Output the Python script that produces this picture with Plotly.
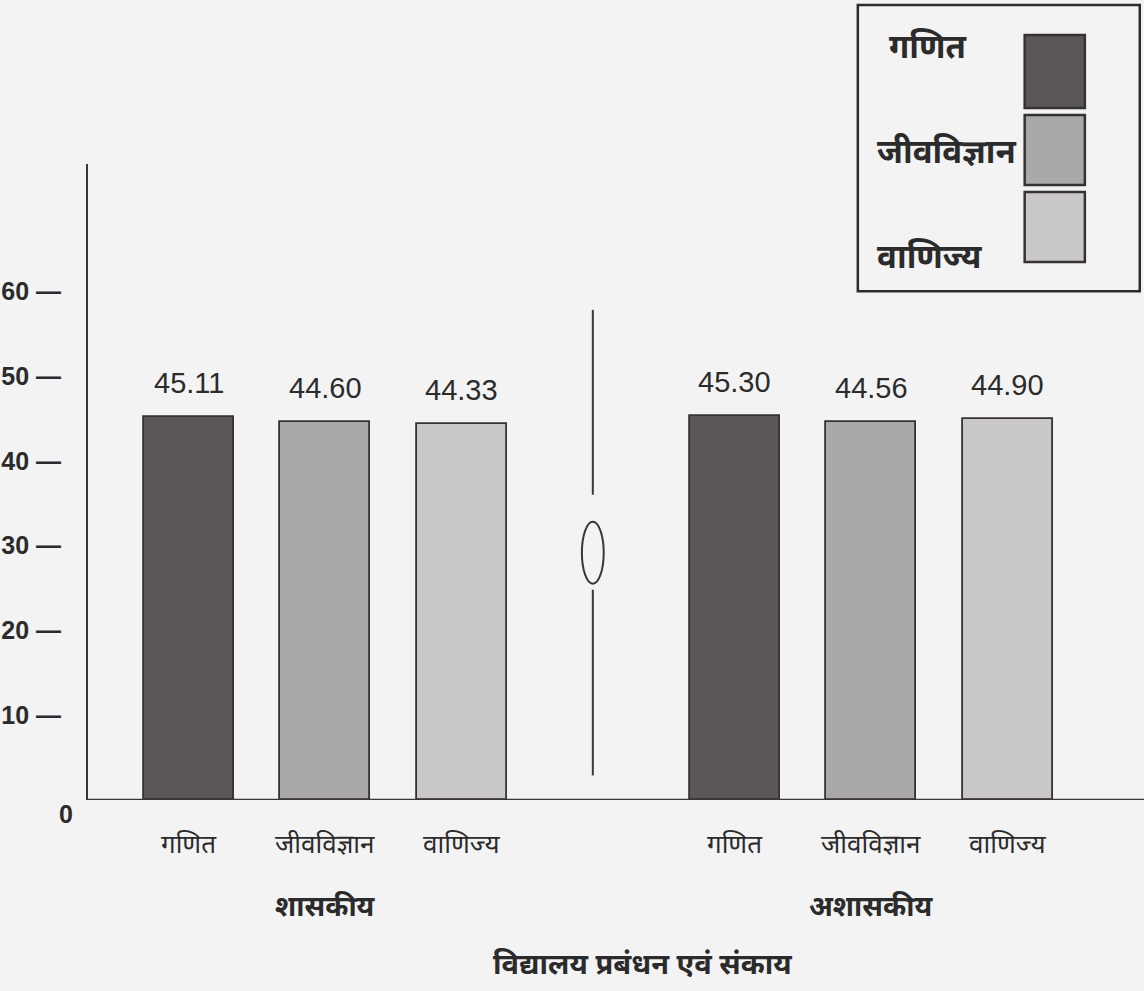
import plotly.graph_objects as go

# Mean scores by school management and faculty
subjects = ["गणित", "जीवविज्ञान", "वाणिज्य"]
groups = ["शासकीय", "अशासकीय"]
govt_scores = [45.11, 44.60, 44.33]
private_scores = [45.30, 44.56, 44.90]
value_labels_govt = ["45.11", "44.60", "44.33"]
value_labels_private = ["45.30", "44.56", "44.90"]
y_tick_vals = [0, 10, 20, 30, 40, 50, 60]
x_title = "विद्यालय प्रबंधन एवं संकाय"

colors = ["#5b5757", "#aaa8a8", "#c9c7c7"]
edge = "#363232"
bg = "#f3f3f3"
ink = "#2b2b2b"
deva = "Noto Sans Devanagari, Noto Sans, Lohit Devanagari, sans-serif"
num_font = "Liberation Sans Narrow, Liberation Sans, Arial, sans-serif"

# slot positions: three bars per group, one empty slot between groups
govt_x = [0, 1, 2]
private_x = [4, 5, 6]
break_x = 3

fig = go.Figure()
for xs, vals, labels in [(govt_x, govt_scores, value_labels_govt),
                         (private_x, private_scores, value_labels_private)]:
    fig.add_trace(go.Bar(
        x=xs, y=vals, width=0.66,
        marker=dict(color=colors, line=dict(color=edge, width=1.8)),
        showlegend=False, hoverinfo="skip",
    ))
    for x, v, t in zip(xs, vals, labels):
        fig.add_annotation(x=x, y=v, text=t, showarrow=False,
                           yanchor="bottom", yshift=16,
                           font=dict(family=num_font, size=29, color=ink))

# category labels under each bar
for xs in (govt_x, private_x):
    for x, s in zip(xs, subjects):
        fig.add_annotation(x=x, y=0, text=s, showarrow=False, yanchor="top",
                           yshift=-28, font=dict(family=deva, size=26, color=ink))

# group labels
for x, g in zip((govt_x[1], private_x[1]), groups):
    fig.add_annotation(x=x, y=0, text="<b>" + g + "</b>", showarrow=False,
                       yanchor="top", yshift=-88,
                       font=dict(family=deva, size=28, color=ink))

# axis title
fig.add_annotation(x=0.525, y=0, xref="paper", yref="y", text="<b>" + x_title + "</b>",
                   showarrow=False, yanchor="top", yshift=-146,
                   font=dict(family=deva, size=29, color=ink))

# zero label sits just below the baseline
fig.add_annotation(x=0, y=0, xref="paper", yref="y", text="<b>0</b>", showarrow=False,
                   xanchor="right", xshift=-13, yanchor="middle", yshift=-14,
                   font=dict(family=num_font, size=25, color=ink))

# broken-scale marker between the two groups
line_style = dict(color="#3b3737", width=2)
fig.add_shape(type="line", x0=break_x - 0.04, x1=break_x - 0.04, y0=36.0, y1=57.8,
              line=line_style)
fig.add_shape(type="circle", x0=break_x - 0.12, x1=break_x + 0.04, y0=25.5, y1=32.8,
              line=line_style)
fig.add_shape(type="line", x0=break_x - 0.04, x1=break_x - 0.04, y0=2.9, y1=24.8,
              line=line_style)

# legend box in the top-right corner (paper coords extend above the plot area)
fig.add_shape(type="rect", xref="paper", yref="paper", x0=0.729, x1=0.996,
              y0=0.800, y1=1.250, line=dict(color=ink, width=2.5),
              fillcolor=bg, layer="above")
swatch_y = [(1.088, 1.203), (0.967, 1.077), (0.846, 0.956)]
text_pos = [(0.795, 1.180), (0.745, 1.015), (0.745, 0.850)]
text_anchor = ["center", "left", "left"]
for (y0, y1), (tx, ty), anc, s, c in zip(swatch_y, text_pos, text_anchor, subjects, colors):
    fig.add_shape(type="rect", xref="paper", yref="paper", x0=0.887, x1=0.944,
                  y0=y0, y1=y1, line=dict(color=edge, width=2.5), fillcolor=c,
                  layer="above")
    fig.add_annotation(x=tx, y=ty, xref="paper", yref="paper", text="<b>" + s + "</b>",
                       showarrow=False, xanchor=anc, yanchor="middle",
                       font=dict(family=deva, size=33, color=ink))

fig.update_layout(
    width=1144, height=991,
    margin=dict(l=88, r=0, t=164, b=191),
    paper_bgcolor=bg, plot_bgcolor=bg,
    bargap=0,
    xaxis=dict(range=[-0.74, 7.0], showticklabels=False, ticks="",
               showgrid=False, zeroline=False, showline=False),
    yaxis=dict(range=[0, 75], tickvals=y_tick_vals[1:],
               ticktext=[f"<b>{v} \u2014</b>" for v in y_tick_vals[1:]],
               ticklabelstandoff=20, ticks="", showgrid=False, zeroline=False,
               showline=True, linecolor="#3b3737", linewidth=2,
               tickfont=dict(family=num_font, size=25, color=ink)),
)
# baseline
fig.add_shape(type="line", xref="paper", yref="y", x0=0, x1=1, y0=0, y1=0,
              line=dict(color="#3b3737", width=2.5))

fig.write_html("out.html")
